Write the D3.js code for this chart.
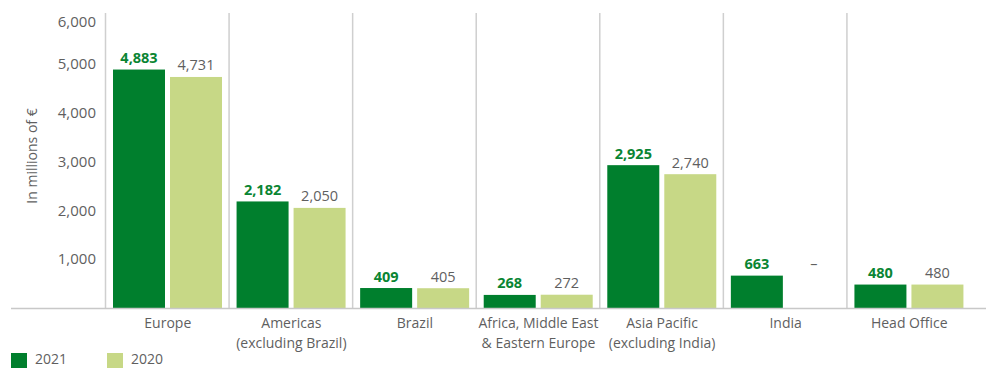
<!DOCTYPE html>
<html>
<head>
<meta charset="utf-8">
<script src="https://cdn.jsdelivr.net/npm/d3@7"></script>
<style>
  html, body { margin: 0; padding: 0; background: #fff; }
  svg { display: block; font-family: "Open Sans", "Noto Sans", sans-serif; }
</style>
</head>
<body>
<svg id="chart" width="986" height="368"></svg>
<script>
// Regions (each label may span two lines)
const categories = [
  ["Europe"],
  ["Americas", "(excluding Brazil)"],
  ["Brazil"],
  ["Africa, Middle East", "& Eastern Europe"],
  ["Asia Pacific", "(excluding India)"],
  ["India"],
  ["Head Office"]
];
const seriesNames = ["2021", "2020"];
const values2021 = [4883, 2182, 409, 268, 2925, 663, 480];
const values2020 = [4731, 2050, 405, 272, 2740, null, 480];
const yTicks = [1000, 2000, 3000, 4000, 5000, 6000];

const colors = { "2021": "#007f2d", "2020": "#c7d886" };
const labelColors = { "2021": "#0a8533", "2020": "#5f5f5f" };

const svg = d3.select("#chart");
const baseY = 308;

const keys = categories.map(c => c.join(" "));
const x0 = d3.scaleBand().domain(keys).range([106, 971]).paddingInner(0).paddingOuter(0);
const x1 = d3.scaleBand().domain(seriesNames).range([7, 116]).paddingInner(0.0877).paddingOuter(0);
const y = d3.scaleLinear().domain([0, 6000]).range([baseY, 15]);

// Vertical band separators
svg.append("g").selectAll("line")
  .data(keys)
  .join("line")
  .attr("x1", d => x0(d) - 0.5).attr("x2", d => x0(d) - 0.5)
  .attr("y1", 13).attr("y2", baseY)
  .attr("stroke", "#cfcfcf").attr("stroke-width", 1.5);

// Y axis tick labels
const yAxis = d3.axisLeft(y).tickValues(yTicks).tickFormat(d3.format(",")).tickSize(0).tickPadding(0);
const gy = svg.append("g").attr("transform", "translate(96,0)").call(yAxis);
gy.select(".domain").remove();
gy.selectAll("text")
  .attr("fill", "#5f5f5f")
  .style("font-size", "15px")
  .style("font-family", "\"Open Sans\", sans-serif")
  .attr("dy", d => d === 6000 ? "0.75em" : "0.32em");

// Axis title
svg.append("text")
  .attr("transform", "translate(37,156) rotate(-90)")
  .attr("text-anchor", "middle")
  .attr("fill", "#5f5f5f")
  .style("font-size", "14px")
  .text("In millions of €");

// Bars
const rows = keys.map((k, i) => ({ key: k, vals: { "2021": values2021[i], "2020": values2020[i] } }));
const groups = svg.append("g").selectAll("g")
  .data(rows)
  .join("g")
  .attr("transform", d => `translate(${x0(d.key)},0)`);

groups.selectAll("rect")
  .data(d => seriesNames.filter(s => d.vals[s] != null).map(s => ({ s, v: d.vals[s] })))
  .join("rect")
  .attr("x", d => x1(d.s))
  .attr("width", x1.bandwidth())
  .attr("y", d => y(d.v))
  .attr("height", d => baseY - y(d.v))
  .attr("fill", d => colors[d.s]);

// Value labels (a dash where there is no value)
groups.selectAll("text.val")
  .data(d => seriesNames.map(s => {
    const v = d.vals[s];
    const ref = v != null ? v : d3.max(seriesNames, t => d.vals[t]);
    return { s, v, ref };
  }))
  .join("text")
  .attr("class", "val")
  .attr("x", d => x1(d.s) + x1.bandwidth() / 2)
  .attr("y", d => y(d.ref) - 6.5)
  .attr("text-anchor", "middle")
  .attr("fill", d => labelColors[d.s])
  .style("font-size", "14.5px")
  .style("font-weight", d => d.s === "2021" ? "700" : "400")
  .text(d => d.v != null ? d3.format(",")(d.v) : "–");

// Baseline
svg.append("line")
  .attr("x1", 11).attr("x2", 986)
  .attr("y1", baseY + 0.5).attr("y2", baseY + 0.5)
  .attr("stroke", "#c8c8c8").attr("stroke-width", 1.5);

// Category labels
const cat = svg.append("g").selectAll("text")
  .data(categories)
  .join("text")
  .attr("x", (d, i) => x0(keys[i]) + x0.bandwidth() / 2)
  .attr("y", 328)
  .attr("text-anchor", "middle")
  .attr("fill", "#5f5f5f")
  .style("font-size", "14px");
cat.selectAll("tspan")
  .data(d => d)
  .join("tspan")
  .attr("x", function () { return d3.select(this.parentNode).attr("x"); })
  .attr("dy", (d, i) => i === 0 ? 0 : 19.5)
  .text(d => d);

// Legend
const legendX = [11, 107];
const legend = svg.append("g").selectAll("g")
  .data(seriesNames)
  .join("g")
  .attr("transform", (d, i) => `translate(${legendX[i]},353)`);
legend.append("rect")
  .attr("width", 16).attr("height", 15)
  .attr("fill", d => colors[d]);
legend.append("text")
  .attr("x", 24).attr("y", 11)
  .attr("fill", "#5f5f5f")
  .style("font-size", "14px")
  .text(d => d);
</script>
</body>
</html>
